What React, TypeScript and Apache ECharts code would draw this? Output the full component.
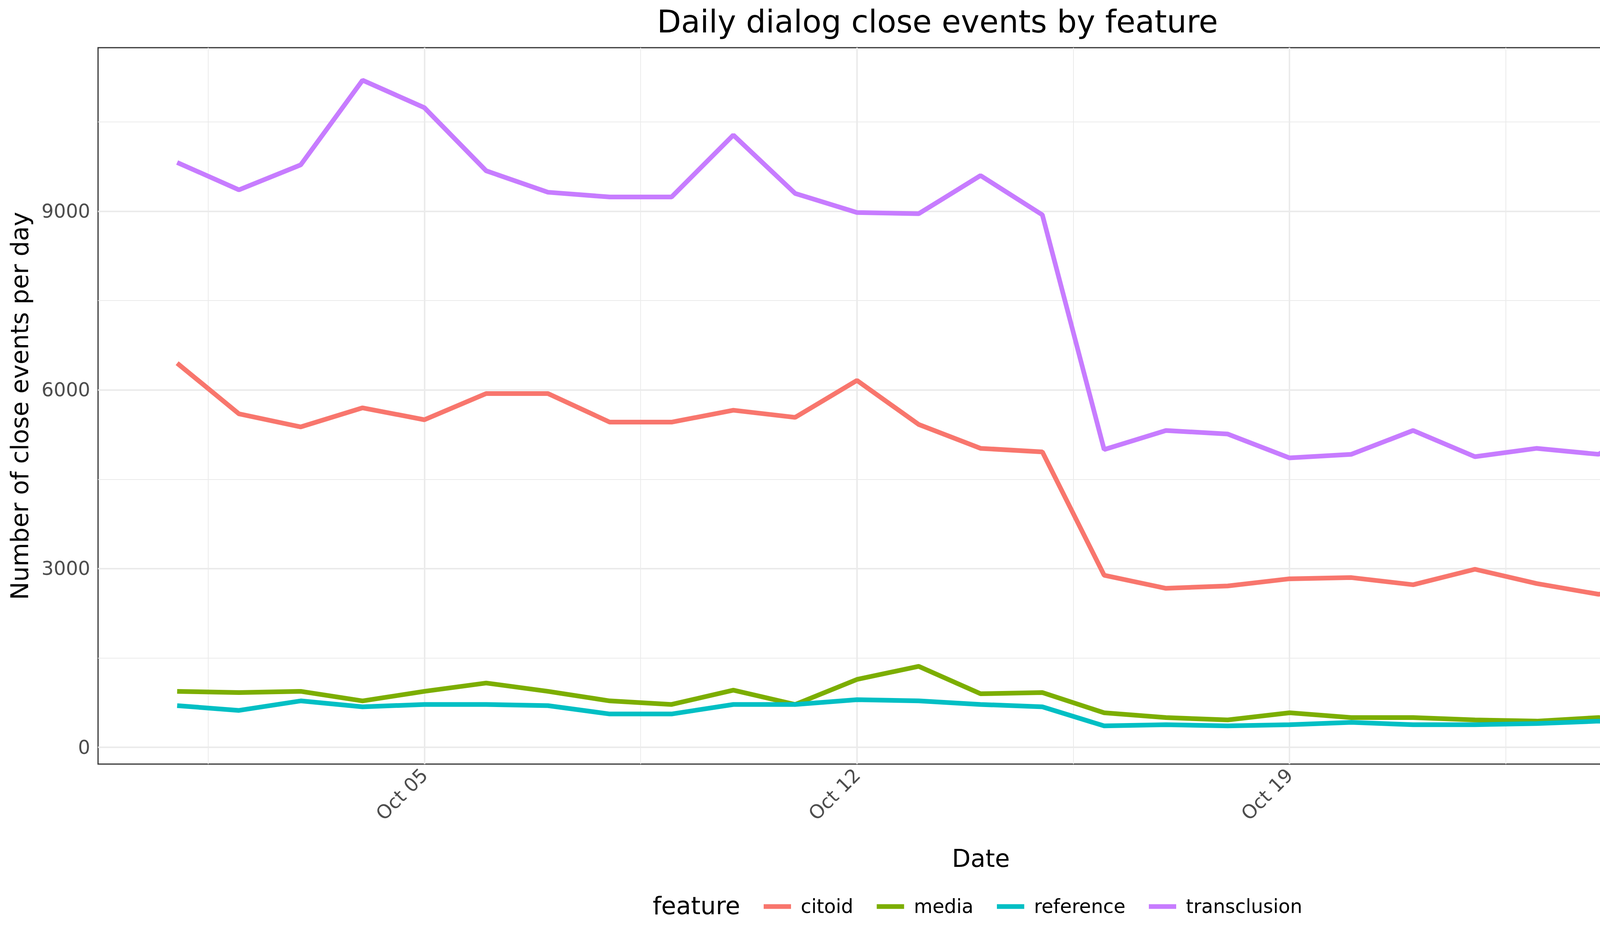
import { useEffect, useRef } from 'react';
import * as echarts from 'echarts';

// Days of October 2015 (1..27)
const days = [1, 2, 3, 4, 5, 6, 7, 8, 9, 10, 11, 12, 13, 14, 15, 16, 17, 18, 19, 20, 21, 22, 23, 24, 25, 26, 27];

const citoid = [6450, 5600, 5380, 5700, 5500, 5940, 5940, 5460, 5460, 5660, 5540, 6160, 5420, 5020, 4960, 2890, 2670, 2710, 2830, 2850, 2730, 2990, 2750, 2570, 2690, 2770, 1690];
const media = [940, 920, 940, 780, 940, 1080, 940, 780, 720, 960, 720, 1140, 1360, 900, 920, 580, 500, 460, 580, 500, 500, 460, 440, 500, 360, 500, 300];
const reference = [700, 620, 780, 680, 720, 720, 700, 560, 560, 720, 720, 800, 780, 720, 680, 360, 380, 360, 380, 420, 380, 380, 400, 440, 400, 300, 260];
const transclusion = [9820, 9360, 9780, 11200, 10740, 9680, 9320, 9240, 9240, 10280, 9300, 8980, 8960, 9600, 8940, 5000, 5320, 5260, 4860, 4920, 5320, 4880, 5020, 4920, 5520, 4880, 3410];

const xTicks = [5, 12, 19, 26];
const xMinor = [1.5, 8.5, 15.5, 22.5];
const yTicks = [0, 3000, 6000, 9000];
const yMinor = [1500, 4500, 7500, 10500];

const FONT = 'DejaVu Sans';

export default function App() {
  const ref = useRef<HTMLDivElement>(null);

  useEffect(() => {
    if (!ref.current) return;
    const chart = echarts.init(ref.current, null, { renderer: 'svg' });

    const mk = (name: string, data: number[], color: string) => ({
      name,
      type: 'line',
      data: days.map((d, i) => [d, data[i]]),
      showSymbol: false,
      lineStyle: { width: 12, color },
      itemStyle: { color },
      z: 5,
    });

    const gridLines = (vals: number[], axis: 'x' | 'y', width: number) =>
      vals.map((v) => ({
        [axis === 'x' ? 'xAxis' : 'yAxis']: v,
        lineStyle: { color: '#ebebeb', width, type: 'solid' },
      }));

    const option: any = {
      animation: false,
      backgroundColor: '#fff',
      title: {
        text: 'Daily dialog close events by feature',
        left: 'center',
        top: 10,
        textStyle: { fontFamily: FONT, fontSize: 80, fontWeight: 'normal', color: '#000' },
      },
      grid: { left: 251, right: 29, top: 122, bottom: 445, show: true, borderColor: '#333', borderWidth: 3 },
      xAxis: {
        type: 'value',
        min: -0.28,
        max: 28.29,
        name: 'Date',
        nameLocation: 'middle',
        nameGap: 210,
        nameTextStyle: { fontFamily: FONT, fontSize: 62, color: '#000' },
        axisLine: { show: false },
        splitLine: { show: false },
        axisTick: { show: true, customValues: xTicks, length: 12, lineStyle: { color: '#333', width: 3 } },
        axisLabel: {
          customValues: xTicks,
          rotate: 45,
          fontFamily: FONT,
          fontSize: 49,
          color: '#4d4d4d',
          margin: 20,
          formatter: (v: number) => `Oct ${String(Math.round(v)).padStart(2, '0')}`,
        },
      },
      yAxis: {
        type: 'value',
        min: -281,
        max: 11747,
        name: 'Number of close events per day',
        nameLocation: 'middle',
        nameGap: 170,
        nameTextStyle: { fontFamily: FONT, fontSize: 62, color: '#000' },
        axisLine: { show: false },
        splitLine: { show: false },
        axisTick: { show: true, customValues: yTicks, length: 12, lineStyle: { color: '#333', width: 3 } },
        axisLabel: {
          customValues: yTicks,
          fontFamily: FONT,
          fontSize: 49,
          color: '#4d4d4d',
          margin: 20,
          formatter: (v: number) => String(v),
        },
      },
      legend: {
        left: 1950,
        top: 2290,
        itemWidth: 70,
        itemHeight: 12,
        itemGap: 60,
        icon: 'rect',
        textStyle: { fontFamily: FONT, fontSize: 49, color: '#000', padding: [0, 0, 0, 20] },
        data: ['citoid', 'media', 'reference', 'transclusion'],
      },
      graphic: [
        {
          type: 'text',
          left: 1671,
          top: 2286,
          style: { text: 'feature', font: `62px "${FONT}"`, fill: '#000' },
        },
      ],
      series: [
        {
          type: 'line',
          data: [],
          silent: true,
          z: 1,
          markLine: {
            silent: true,
            symbol: 'none',
            label: { show: false },
            data: [
              ...gridLines(xMinor, 'x', 2),
              ...gridLines(yMinor, 'y', 2),
              ...gridLines(xTicks, 'x', 4),
              ...gridLines(yTicks, 'y', 4),
            ],
          },
        },
        mk('citoid', citoid, '#F8766D'),
        mk('media', media, '#7CAE00'),
        mk('reference', reference, '#00BFC4'),
        mk('transclusion', transclusion, '#C77CFF'),
      ],
    };

    chart.setOption(option);
    return () => chart.dispose();
  }, []);

  return (
    <div
      ref={ref}
      style={{ position: 'fixed', left: 0, top: 0, width: 4800, height: 2400 }}
    />
  );
}
